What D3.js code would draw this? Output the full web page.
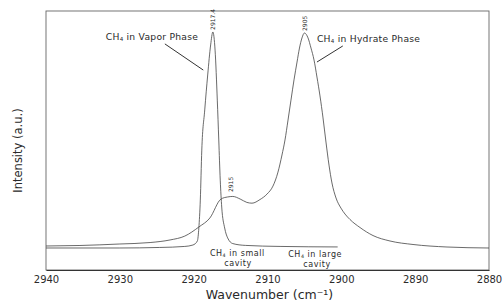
<!DOCTYPE html>
<html><head><meta charset="utf-8">
<script src="https://cdn.jsdelivr.net/npm/d3@7"></script>
<style>
body{margin:0;background:#fff;}
svg{display:block;font-family:"DejaVu Sans",sans-serif;}
</style></head>
<body><svg id="c" width="503" height="303"></svg>
<script>
// Wavenumber (cm-1) and intensity (a.u.)
const vaporWave = [2940,2930,2924.6,2921.2,2920.1,2919.5,2919.3,2919.1,2918.9,2918.5,2918.1,2917.7,2917.4,2917.1,2916.8,2916.6,2916.4,2916.2,2915.8,2915.4,2914.7,2913.0,2908.3,2900.5];
const vaporInt  = [8.5,8.5,8.7,9.1,9.65,11.2,16.2,27.0,46.3,61.8,75.3,86.9,91.9,84.9,65.6,50.2,34.7,24.3,16.2,12.4,10.2,9.5,9.1,8.9];
const hydrateWave = [2940,2935.4,2930,2925.9,2923.2,2921.2,2919.3,2917.8,2916.3,2915.4,2914.7,2913.7,2912.8,2912.1,2911.02,2910.07,2909.26,2908.58,2908.04,2907.63,2907.22,2906.82,2906.41,2906.0,2905.67,2905.33,2905.0,2904.51,2904.11,2903.70,2903.30,2902.89,2902.48,2902.08,2901.67,2901.27,2900.72,2900.05,2899.50,2898.83,2897.47,2895.71,2893.41,2890.29,2885.69,2880];
const hydrateInt  = [9.27,9.46,10.04,10.6,11.6,13.1,16.6,20.1,27.4,28.2,28.4,27.4,26.1,25.8,27.2,29.3,32.4,37.8,44.4,50.2,57.9,65.6,73.4,80.3,85.7,89.6,91.5,89.6,85.7,81.1,74.5,67.2,58.7,49.4,40.5,33.6,27.8,23.9,21.6,19.5,16.4,13.3,11.2,9.85,8.88,8.49];
const xTicks = [2940,2930,2920,2910,2900,2890,2880];
const peakLabels = ["2917.4","2915","2905"];
const annotationTexts = ["in Vapor Phase","in Hydrate Phase","in small","in large","cavity"];

const svg = d3.select("#c");
const L=46,R=489,T=11,B=270;
const x = d3.scaleLinear().domain([2940,2880]).range([L,R]);
const y = d3.scaleLinear().domain([0,100]).range([B,T]);
const ink="#2a2a2a";

svg.append("rect").attr("x",L).attr("y",T).attr("width",R-L).attr("height",B-T)
  .attr("fill","none").attr("stroke","#666").attr("stroke-width",0.9);

const ax = svg.append("g").attr("transform",`translate(0,${B})`)
  .call(d3.axisBottom(x).tickValues(xTicks).tickSize(0).tickPadding(6).tickFormat(d3.format("d")));
ax.select(".domain").attr("stroke","#333").attr("stroke-width",1.2);
ax.selectAll("text").attr("font-size",10).attr("fill",ink).attr("font-family","DejaVu Sans");

svg.append("text").attr("x",(L+R)/2+2).attr("y",299).attr("text-anchor","middle")
  .attr("font-size",12.5).attr("fill",ink).text("Wavenumber (cm⁻¹)");
svg.append("text").attr("transform",`translate(22,${(T+B)/2+10}) rotate(-90)`).attr("text-anchor","middle")
  .attr("font-size",11.5).attr("fill",ink).text("Intensity (a.u.)");

const line = d3.line().x(d=>x(d[0])).y(d=>y(d[1])).curve(d3.curveMonotoneX);
const vap = vaporWave.map((w,i)=>[w,vaporInt[i]]);
const hyd = hydrateWave.map((w,i)=>[w,hydrateInt[i]]);
[vap,hyd].forEach(s=>svg.append("path").datum(s).attr("d",line)
  .attr("fill","none").attr("stroke","#444").attr("stroke-width",0.8));

function ch4(px,py,rest,fs,ls){
  const t = svg.append("text").attr("x",px).attr("y",py).attr("font-size",fs)
    .attr("letter-spacing",ls).attr("fill",ink);
  t.append("tspan").text("CH");
  t.append("tspan").attr("font-size",fs*0.6).attr("dy",1.2).text("4");
  t.append("tspan").attr("dy",-1.2).text(" "+rest);
  return t;
}
ch4(x(2931.9),y(88.8),annotationTexts[0],9.2,0.25);
ch4(x(2903.3),y(88.0),annotationTexts[1],9.2,0.25);
// cavity labels under the baseline
ch4(x(2917.8),255.5,annotationTexts[2],8,0.55);
svg.append("text").attr("x",x(2914.0)).attr("y",265.5).attr("text-anchor","middle")
  .attr("font-size",8).attr("letter-spacing",0.55).attr("fill",ink).text(annotationTexts[4]);
ch4(x(2907.2),256.5,annotationTexts[3],8,0.55);
svg.append("text").attr("x",x(2903.3)).attr("y",266.5).attr("text-anchor","middle")
  .attr("font-size",8).attr("letter-spacing",0.55).attr("fill",ink).text(annotationTexts[4]);

// leader lines
[[2923.9,87.3,2918.7,77.2],[2899.8,86.5,2903.3,80.3]].forEach(a=>
  svg.append("line").attr("x1",x(a[0])).attr("y1",y(a[1])).attr("x2",x(a[2])).attr("y2",y(a[3]))
    .attr("stroke","#333").attr("stroke-width",1));

// peak labels (rotated)
[[2917.4,92.7,peakLabels[0]],[2915.0,30.1,peakLabels[1]],[2905.0,92.3,peakLabels[2]]].forEach(p=>
  svg.append("text").attr("transform",`translate(${x(p[0])+2.5},${y(p[1])}) rotate(-90)`)
    .attr("font-size",6).attr("fill",ink).text(p[2]));
</script></body></html>
